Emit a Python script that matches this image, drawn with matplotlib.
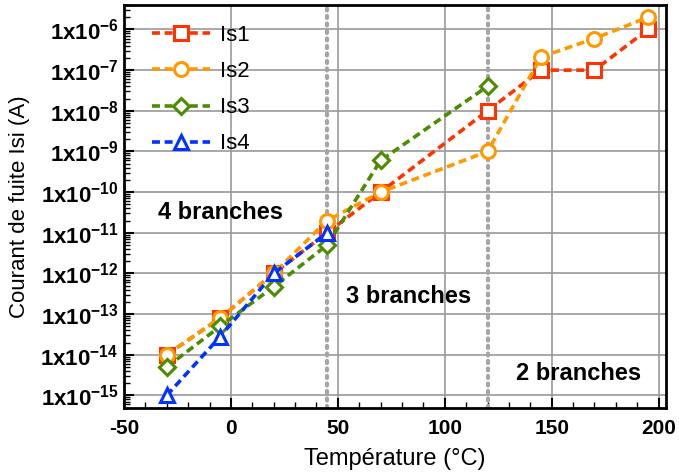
import matplotlib
matplotlib.use("Agg")
import matplotlib.pyplot as plt
from matplotlib.ticker import FixedLocator, LogLocator, MultipleLocator, NullFormatter

plt.rcParams['font.family'] = 'Liberation Sans'
plt.rcParams['axes.unicode_minus'] = False
plt.rcParams['mathtext.fontset'] = 'custom'
plt.rcParams['mathtext.rm'] = 'Liberation Sans:bold'
plt.rcParams['mathtext.it'] = 'Liberation Sans:bold'
plt.rcParams['mathtext.bf'] = 'Liberation Sans:bold'

# data
temp_all = [-30, -5, 20, 45, 70, 120, 145, 170, 195]
is1 = [1e-14, 8e-14, 1e-12, 1e-11, 1e-10, 1e-8, 1e-7, 1e-7, 1e-6]
is2 = [1e-14, 8e-14, 1e-12, 2e-11, 1e-10, 1e-9, 2.1e-7, 6e-7, 2e-6]
temp_is3 = [-30, -5, 20, 45, 70, 120]
is3 = [5e-15, 5e-14, 4.7e-13, 5e-12, 6e-10, 4e-8]
temp_is4 = [-30, -5, 20, 45]
is4 = [1e-15, 2.8e-14, 1e-12, 1e-11]

boundaries = [45, 120]
decades = list(range(-15, -5))
xticks = [-50, 0, 50, 100, 150, 200]

fig = plt.figure(figsize=(6.79, 4.72), dpi=100)
ax = fig.add_axes([0.1826, 0.1356, 0.7984, 0.8538])

ax.set_yscale('log')
ax.set_xlim(-50, 203.5)
ax.set_ylim(4.9e-16, 4e-6)

ax.grid(True, which='major', color='#999999', lw=1.2)
ax.set_axisbelow(True)

for b in boundaries:
    ax.axvline(b, color='#a5a5a5', ls=(0, (0.5, 1.3)), lw=3, dash_capstyle='round', zorder=1.5)

style = dict(ls='--', lw=2.6, ms=10, mew=2.2, mfc='white', dashes=(2.2, 1.3))
ax.plot(temp_all, is1, marker='s', color='#FF3300', label='Is1', **style)
ax.plot(temp_all, is2, marker='o', color='#FF9900', label='Is2', **style)
ax.plot(temp_is3, is3, marker='D', color='#4C8C00', label='Is3', **dict(style, ms=8.5))
ax.plot(temp_is4, is4, marker='^', color='#0033FF', label='Is4', **style)

ax.yaxis.set_major_locator(FixedLocator([10.0 ** d for d in decades]))
ax.set_yticklabels([r'$1x10^{%d}$' % d for d in decades], fontsize=16)
ax.yaxis.set_minor_locator(LogLocator(base=10, subs=range(2, 10), numticks=30))
ax.yaxis.set_minor_formatter(NullFormatter())
ax.xaxis.set_major_locator(FixedLocator(xticks))
ax.set_xticklabels([str(t) for t in xticks], fontsize=15, fontweight='bold')
ax.xaxis.set_minor_locator(MultipleLocator(10))
ax.tick_params(which='both', direction='in', top=False, right=False)
ax.tick_params(which='major', length=7, width=1.5)
ax.tick_params(which='minor', length=4, width=1)
ax.tick_params(axis='x', pad=8)
ax.tick_params(axis='y', pad=4)

for sp in ax.spines.values():
    sp.set_linewidth(2)

ax.set_xlabel('Température (°C)', fontsize=17)
ax.set_ylabel('Courant de fuite Isi (A)', fontsize=16)
ax.xaxis.set_label_coords(0.5, -0.1)
ax.yaxis.set_label_coords(-0.174, 0.5)

ax.text(-5, 3.2e-11, '4 branches', fontsize=17, fontweight='bold', ha='center', va='center')
ax.text(83, 2.7e-13, '3 branches', fontsize=17, fontweight='bold', ha='center', va='center')
ax.text(162.6, 3.5e-15, '2 branches', fontsize=17, fontweight='bold', ha='center', va='center')

ax.legend(loc='upper left', frameon=False, fontsize=16, handlelength=2.6,
          borderaxespad=0, borderpad=0, labelspacing=0.68, handletextpad=0.45,
          bbox_to_anchor=(0.052, 0.95))

fig.savefig('out.png', dpi=100)
